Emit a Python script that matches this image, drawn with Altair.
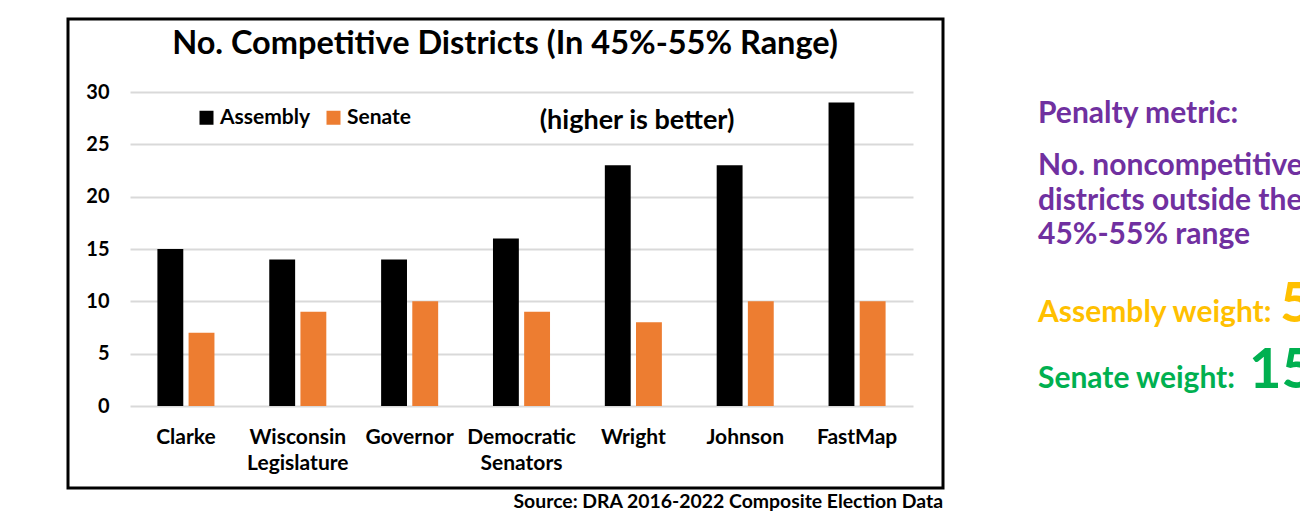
import altair as alt
import pandas as pd

# ---- data ----
plans = ["Clarke", "Wisconsin Legislature", "Governor", "Democratic Senators",
         "Wright", "Johnson", "FastMap"]
assembly = [15, 14, 14, 16, 23, 23, 29]
senate = [7, 9, 10, 9, 8, 10, 10]
series = ["Assembly", "Senate"]
series_colors = ["#000000", "#ED7D31"]
y_ticks = [0, 5, 10, 15, 20, 25, 30]

title_text = "No. Competitive Districts (In 45%-55% Range)"
note_text = "(higher is better)"
source_text = "Source: DRA 2016-2022 Composite Election Data"
penalty_head = "Penalty metric:"
penalty_body = "No. noncompetitive\ndistricts outside the\n45%-55% range"
assembly_weight_label = "Assembly weight:"
assembly_weight = "5"
senate_weight_label = "Senate weight:"
senate_weight = "15"

rows = []
for p, a, s in zip(plans, assembly, senate):
    rows.append({"plan": p, "series": "Assembly", "value": a})
    rows.append({"plan": p, "series": "Senate", "value": s})
df = pd.DataFrame(rows)

FONT = "Lato"
W, H = 783, 314

bars = alt.Chart(df).mark_bar().encode(
    x=alt.X("plan:N", sort=plans, title=None,
            scale=alt.Scale(paddingInner=0.49, paddingOuter=0.245),
            axis=alt.Axis(labelAngle=0, labelFont=FONT, labelFontWeight="bold",
                          labelFontSize=21, labelColor="#000000", ticks=False,
                          domain=False, labelPadding=20, labelLineHeight=26,
                          labelExpr="split(datum.label, ' ')")),
    xOffset=alt.XOffset("series:N", sort=series,
                        scale=alt.Scale(paddingInner=0.17)),
    y=alt.Y("value:Q", title=None,
            scale=alt.Scale(domain=[0, 30], nice=False),
            axis=alt.Axis(values=y_ticks, labelFont=FONT, labelFontWeight="bold",
                          labelFontSize=20, labelColor="#000000", ticks=False,
                          domain=False, labelPadding=21, gridColor="#d9d9d9",
                          gridWidth=2)),
    color=alt.Color("series:N", sort=series,
                    scale=alt.Scale(domain=series, range=series_colors),
                    legend=alt.Legend(orient="none", legendX=66, legendY=15,
                                      direction="horizontal", title=None,
                                      symbolType="square", symbolSize=196,
                                      symbolStrokeWidth=0, labelFont=FONT,
                                      labelFontWeight="bold", labelFontSize=21,
                                      labelColor="#000000", labelOffset=3,
                                      columnPadding=12, padding=0)),
)


def text_layer(txt, x, y, size, color="#000000", align="left",
               baseline="alphabetic", line_height=None):
    kw = dict(font=FONT, fontWeight="bold", fontSize=size, color=color,
              align=align, baseline=baseline)
    if line_height is not None:
        kw["lineBreak"] = "\n"
        kw["lineHeight"] = line_height
    return alt.Chart(pd.DataFrame({"t": [txt]})).mark_text(**kw).encode(
        text="t:N", x=alt.value(x), y=alt.value(y))


# positions are relative to the plot origin (130, 92)
frame = alt.Chart(pd.DataFrame({"t": [1]})).mark_rect(
    fillOpacity=0, stroke="#000000", strokeWidth=3).encode(
    x=alt.value(-62), x2=alt.value(813), y=alt.value(-73), y2=alt.value(396))

title = text_layer(title_text, 375, -38, 32.5, align="center")
note = text_layer(note_text, 507, 37, 27, align="center")
source = text_layer(source_text, 813, 416, 19.4, align="right")
p_head = text_layer(penalty_head, 908, 31, 30, color="#7030A0")
p_body = text_layer(penalty_body, 908, 83, 30, color="#7030A0", line_height=34.5)
a_lab = text_layer(assembly_weight_label, 908, 230, 30, color="#FFC000")
a_val = text_layer(assembly_weight, 1150, 230, 56, color="#FFC000")
s_lab = text_layer(senate_weight_label, 908, 296, 30, color="#00B050")
s_val = text_layer(senate_weight, 1119, 296, 56, color="#00B050")

chart = alt.layer(bars, frame, title, note, source, p_head, p_body,
                  a_lab, a_val, s_lab, s_val).properties(
    width=W, height=H,
    autosize=alt.AutoSizeParams(type="none"),
    padding={"left": 130, "top": 92, "right": 387, "bottom": 112},
    background="#ffffff",
).configure_view(stroke=None)

chart.save("out.html", embed_options={"renderer": "svg", "actions": False})
